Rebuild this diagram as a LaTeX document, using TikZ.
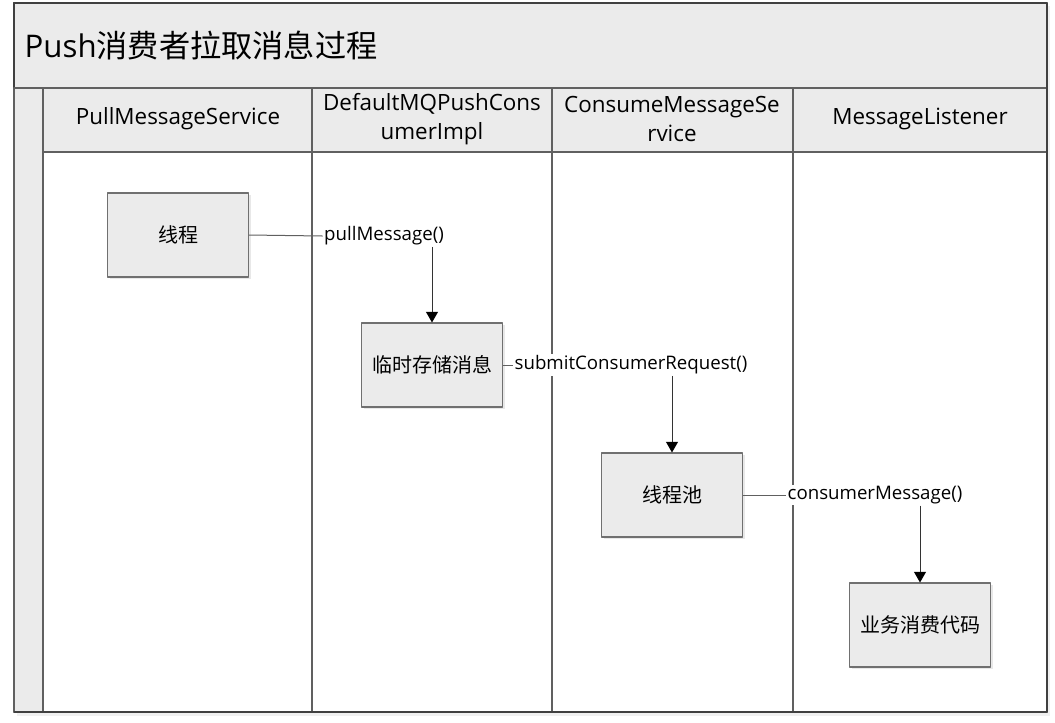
\documentclass[tikz,border=0pt]{standalone}
\usepackage{fontspec}
\setmainfont{Open Sans}
\newfontfamily\cjk{Noto Sans CJK SC}
\usetikzlibrary{arrows.meta,shadows}
\definecolor{lanefill}{HTML}{EBEBEB}
\definecolor{laneline}{HTML}{606060}
\definecolor{boxline}{HTML}{707070}
\tikzset{
	lanebox/.style={fill=lanefill, draw=laneline, line width=1pt},
	stepbox/.style={draw=boxline, fill=lanefill, line width=0.8pt, minimum width=105.75pt, minimum height=63pt, inner sep=0pt, font=\cjk\fontsize{15}{18}\selectfont, drop shadow={opacity=0.18, shadow xshift=1.5pt, shadow yshift=-1.5pt}},
	calllabel/.style={fill=white, inner sep=1pt, font=\fontsize{14}{16}\selectfont},
	lanehead/.style={align=center, font=\fontsize{16.8}{21.5}\selectfont},
	callline/.style={draw=laneline, line width=0.75pt}
}
\begin{document}
\begin{tikzpicture}[x=0.75pt, y=-0.75pt, line join=round, >={Triangle[length=8pt,width=9pt,color=black]}]
	% Khung
	\useasboundingbox (0,0) rectangle (1055,722);
	\fill[black!6] (17,6) rectangle (1050,716);
	\filldraw[fill=white, draw=black!75, line width=1.1pt] (14,3) rectangle (1047,712);
	% Tieu de
	\filldraw[lanebox, draw=black!75] (14,3) rectangle (1047,88);
	\node[anchor=west, font=\fontsize{23.4}{28}\selectfont] (title) at (20,45) {Push{\cjk 消费者拉取消息过程}};
	% Cot trai va hang tieu de
	\filldraw[lanebox] (14,88) rectangle (43,712);
	\filldraw[lanebox] (43,88) rectangle (1047,152);
	% Duong chia lan
	\foreach \x in {312,552,793}
		\draw[laneline, line width=1pt] (\x,88) -- (\x,712);
	\draw[black!75, line width=1.1pt] (14,712) -- (1047,712) -- (1047,3);
	% Ten cac lan
	\node[lanehead] (pms) at (178,119) {PullMessageService};
	\node[lanehead] (dmq) at (432,119) {DefaultMQPushCons\\umerImpl};
	\node[lanehead] (cms) at (672,119) {ConsumeMessageSe\\rvice};
	\node[lanehead] (ml) at (920,119) {MessageListener};
	% Cac buoc
	\node[stepbox] (thread) at (178,235) {线程};
	\node[stepbox] (store) at (432,365) {临时存储消息};
	\node[stepbox] (pool) at (672,495) {线程池};
	\node[stepbox] (biz) at (920,625) {业务消费代码};
	% Nhan loi goi
	\node[calllabel] (pull) at (384,236) {pullMessage()};
	\node[calllabel] (submit) at (631,365) {submitConsumerRequest()};
	\node[calllabel] (consume) at (875,495) {consumerMessage()};
	%
	\draw[callline] (thread.east) -- (pull.west);
	\draw[callline, draw=black!80, ->] (pull.south -| store.north) -- (store.north);
	\draw[callline] (store.east) -- (submit.west);
	\draw[callline, draw=black!80, ->] (submit.south -| pool.north) -- (pool.north);
	\draw[callline] (pool.east) -- (consume.west);
	\draw[callline, draw=black!80, ->] (consume.south -| biz.north) -- (biz.north);
\end{tikzpicture}
\end{document}
